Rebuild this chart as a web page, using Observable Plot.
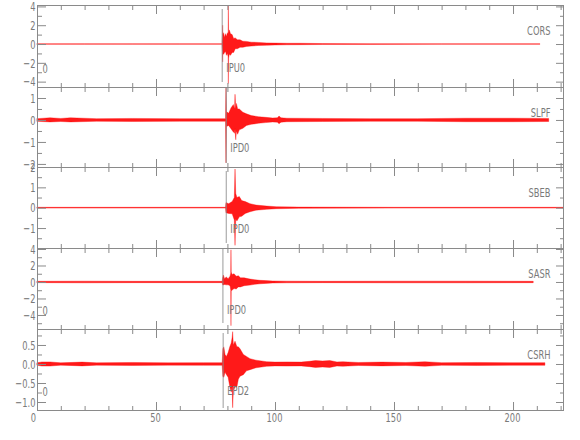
<!DOCTYPE html>
<html><head><meta charset="utf-8">
<script src="https://cdn.jsdelivr.net/npm/d3@7"></script>
<script src="https://cdn.jsdelivr.net/npm/@observablehq/plot@0.6"></script>
<style>
html,body{margin:0;padding:0;background:#fff;}
#chart{position:relative;width:580px;height:440px;overflow:hidden;background:#fff;}
#chart svg{position:absolute;left:0;overflow:visible;}
</style></head><body><div id="chart"></div>
<script>
// ---- data ----
const stations = ["CORS", "SLPF", "SBEB", "SASR", "CSRH"];
const pickT = [77.6, 79.3, 79.3, 77.9, 78.0];
const pickLabels = ["IPU0", "IPD0", "IPD0", "IPD0", "EPD2"];
const hasZero = [true, false, false, true, true];

const xMajor = [0, 50, 100, 150, 200];
const xMinor = [10, 20, 30, 40, 60, 70, 80, 90, 110, 120, 130, 140, 160, 170, 180, 190, 210, 220];

const yDomains = [[-4.57, 4.15], [-2.14, 1.5], [-1.98, 2.0], [-5.7, 4.12], [-1.21, 0.92]];
const yMajor = [[-4, -2, 0, 2, 4], [-2, -1, 0, 1], [-1, 0, 1, 2], [-4, -2, 0, 2, 4], [-1, -0.5, 0, 0.5]];
const yMinor = [[-3, -1, 1, 3], [-1.5, -0.5, 0.5], [-1.5, -0.5, 0.5, 1.5], [-5, -3, -1, 1, 3], [-0.75, -0.25, 0.25, 0.75]];

// envelope of each trace: time (s), upper and lower amplitude
const corsT  = [0, 20, 40, 60, 77.7, 77.9, 78.0, 78.1, 78.4, 78.8, 79.2, 79.6, 80.0, 80.3, 80.4, 80.5, 80.8, 81.3, 82.0, 82.6, 83.3, 84.2, 85.3, 86.5, 88, 90, 93, 96.5, 100, 105, 110.5, 120, 140, 170, 211.3];
const corsHi = [0.02, 0.03, 0.02, 0.03, 0.03, 0.9, 2.0, 0.9, 1.2, 0.7, 1.1, 0.8, 1.2, 1.0, 4.05, 1.1, 1.5, 1.1, 1.0, 0.6, 0.65, 0.45, 0.45, 0.3, 0.28, 0.2, 0.17, 0.12, 0.1, 0.08, 0.08, 0.05, 0.04, 0.03, 0.03];
const corsLo = [-0.02, -0.03, -0.02, -0.03, -0.03, -0.8, -1.9, -1.0, -1.1, -0.9, -0.8, -1.2, -1.0, -1.35, -4.2, -1.5, -1.1, -1.2, -0.9, -0.9, -0.5, -0.5, -0.35, -0.35, -0.25, -0.22, -0.15, -0.13, -0.1, -0.08, -0.07, -0.05, -0.04, -0.03, -0.03];

const slpfT  = [0, 5.5, 10, 14, 25, 40, 60, 79.2, 79.4, 79.6, 80.5, 81.5, 82.5, 83.0, 83.2, 83.5, 83.8, 84.3, 85, 86.5, 88, 90, 93, 96, 99, 101, 101.7, 102.5, 105, 120, 140, 160, 180, 200, 215];
const slpfHi = [0.06, 0.1, 0.07, 0.1, 0.06, 0.07, 0.06, 0.06, 1.45, 0.38, 0.3, 0.55, 0.7, 0.5, 1.17, 0.5, 0.75, 0.5, 0.5, 0.35, 0.28, 0.2, 0.15, 0.12, 0.09, 0.1, 0.18, 0.1, 0.08, 0.07, 0.06, 0.06, 0.08, 0.08, 0.07];
const slpfLo = [-0.06, -0.09, -0.07, -0.09, -0.06, -0.07, -0.06, -0.06, -1.95, -0.3, -0.25, -0.4, -0.55, -0.6, -0.4, -0.9, -0.5, -0.65, -0.45, -0.38, -0.25, -0.2, -0.15, -0.12, -0.09, -0.1, -0.17, -0.1, -0.08, -0.07, -0.06, -0.06, -0.08, -0.08, -0.07];

const sbebT  = [0, 40, 79.2, 79.4, 80.5, 82, 82.9, 83.2, 83.5, 84, 85, 86, 87.5, 89.5, 92, 96.5, 100.5, 110, 150, 221];
const sbebHi = [0.02, 0.02, 0.02, 0.25, 0.2, 0.3, 0.5, 1.9, 0.7, 0.5, 0.55, 0.35, 0.3, 0.2, 0.13, 0.08, 0.05, 0.03, 0.02, 0.02];
const sbebLo = [-0.02, -0.02, -0.02, -0.25, -0.28, -0.3, -0.6, -1.85, -0.55, -0.65, -0.45, -0.42, -0.28, -0.2, -0.12, -0.08, -0.05, -0.03, -0.02, -0.02];

const sasrT  = [0, 20, 40, 60, 77.8, 78.0, 78.3, 78.8, 79.5, 80.3, 81.1, 81.4, 81.5, 81.6, 82, 82.8, 83.7, 84.6, 85.5, 87, 89.5, 91.5, 93.7, 96, 99, 105, 120, 150, 180, 208.5];
const sasrHi = [0.08, 0.1, 0.08, 0.08, 0.08, 0.5, 0.85, 0.4, 0.6, 0.4, 0.7, 1.1, 3.9, 1.2, 0.9, 1.0, 0.7, 0.75, 0.5, 0.5, 0.35, 0.28, 0.2, 0.17, 0.12, 0.1, 0.08, 0.1, 0.1, 0.08];
const sasrLo = [-0.08, -0.1, -0.08, -0.08, -0.08, -0.35, -0.36, -0.3, -0.35, -0.35, -0.45, -1.0, -5.3, -1.1, -0.97, -0.8, -0.85, -0.6, -0.6, -0.45, -0.38, -0.28, -0.22, -0.17, -0.12, -0.1, -0.08, -0.1, -0.1, -0.08];

const csrhT  = [0, 2, 5.5, 10, 19, 25, 40, 55, 70, 77.8, 78.1, 78.5, 79, 79.6, 80.3, 81.0, 81.6, 82.0, 82.2, 82.5, 83.2, 84, 84.6, 85.3, 86.7, 88, 89.5, 92, 96.5, 100, 105, 111, 114.5, 117, 120, 123, 126, 128.5, 135, 145, 155, 163, 170, 185, 200, 213.4];
const csrhHi = [0.03, 0.055, 0.055, 0.03, 0.05, 0.03, 0.04, 0.03, 0.035, 0.035, 0.4, 0.45, 0.25, 0.2, 0.3, 0.45, 0.55, 0.7, 0.85, 0.5, 0.6, 0.45, 0.45, 0.4, 0.25, 0.2, 0.14, 0.1, 0.06, 0.05, 0.055, 0.05, 0.07, 0.09, 0.08, 0.09, 0.055, 0.06, 0.04, 0.05, 0.04, 0.06, 0.035, 0.04, 0.035, 0.035];
const csrhLo = [-0.03, -0.055, -0.055, -0.03, -0.05, -0.03, -0.04, -0.03, -0.035, -0.035, -0.33, -0.35, -0.22, -0.28, -0.35, -0.6, -0.74, -0.6, -1.15, -0.7, -0.6, -0.6, -0.4, -0.32, -0.28, -0.18, -0.15, -0.1, -0.06, -0.05, -0.055, -0.05, -0.07, -0.09, -0.08, -0.09, -0.055, -0.06, -0.04, -0.05, -0.04, -0.06, -0.035, -0.04, -0.035, -0.035];

const traceT = [corsT, slpfT, sbebT, sasrT, csrhT];
const traceHi = [corsHi, slpfHi, sbebHi, sasrHi, csrhHi];
const traceLo = [corsLo, slpfLo, sbebLo, sasrLo, csrhLo];

// ---- layout / style ----
const boxTop = [5, 87, 167, 248, 329];
const boxBottom = [87, 167, 248, 329, 410];
const pickInset = [[4, 5], [1, 4], [4, 5], [0, 6], [4, 2]];
const LINE = "#8a8a8a", TEXT = "#7a7a7a", RED = "#ff0000";
const FONT = "'DejaVu Sans', sans-serif";
const CONDENSE = 0.64;

const chart = document.getElementById("chart");

for (let i = 0; i < 5; i++) {
  const mt = 10, mb = i === 4 ? 30 : 10;
  const h = boxBottom[i] - boxTop[i];
  const data = traceT[i].map((t, j) => ({t, hi: traceHi[i][j], lo: traceLo[i][j]}));
  const fmt = i === 4 ? d3.format(".1f") : d3.format("d");
  const tickOpts = {fill: "none", label: null, stroke: LINE};
  const svg = Plot.plot({
    width: 580,
    height: h + mt + mb,
    marginLeft: 37, marginRight: 17, marginTop: mt, marginBottom: mb,
    style: {background: "transparent", overflow: "visible", fontFamily: FONT, fontSize: "13px"},
    x: {domain: [0, 221]},
    y: {domain: yDomains[i]},
    marks: [
      Plot.areaY(data, {x: "t", y1: "lo", y2: "hi", fill: RED, fillOpacity: 0.9, stroke: RED, strokeWidth: 0.5, strokeOpacity: 0.7}),
      Plot.ruleX([{t: pickT[i]}], {x: "t", stroke: LINE, strokeOpacity: 0.85, insetTop: pickInset[i][0], insetBottom: pickInset[i][1]}),
      Plot.frame({stroke: LINE}),
      Plot.axisX(xMinor, {anchor: "top", tickSize: -4, ...tickOpts}),
      Plot.axisX(xMajor, {anchor: "top", tickSize: -8, ...tickOpts}),
      Plot.axisX(xMinor, {anchor: "bottom", tickSize: -4, ...tickOpts}),
      Plot.axisX(xMajor, {anchor: "bottom", tickSize: -8, ...tickOpts}),
      Plot.axisY(yMinor[i], {anchor: "left", tickSize: -5, ...tickOpts}),
      Plot.axisY(yMajor[i], {anchor: "left", tickSize: -9, ...tickOpts}),
      Plot.axisY(yMinor[i], {anchor: "right", tickSize: -4, ...tickOpts}),
      Plot.axisY(yMajor[i], {anchor: "right", tickSize: -8, ...tickOpts}),
      Plot.axisY(yMajor[i], {anchor: "left", tickSize: 0, tickPadding: 2, tickFormat: fmt, label: null, fill: TEXT}),
      i === 4 ? Plot.axisX(xMajor.slice(0, 1), {anchor: "bottom", tickSize: 0, tickPadding: 2, dx: -4, label: null, fill: TEXT}) : null,
      i === 4 ? Plot.axisX(xMajor.slice(1), {anchor: "bottom", tickSize: 0, tickPadding: 2, dx: -1, label: null, fill: TEXT}) : null,
      Plot.text([{t: pickT[i], s: pickLabels[i]}], {x: "t", text: "s", frameAnchor: "bottom", dx: 4, dy: -16, textAnchor: "start", fill: TEXT}),
      hasZero[i] ? Plot.text(["0"], {text: d => d, frameAnchor: "bottom-left", dx: 5, dy: -15, textAnchor: "start", fill: TEXT}) : null,
      Plot.text([stations[i]], {text: d => d, frameAnchor: "top-right", dx: -13, dy: 20, textAnchor: "end", fill: TEXT})
    ]
  });
  svg.style.top = (boxTop[i] - mt) + "px";
  chart.appendChild(svg);
  // condense glyphs to resemble the narrow plotting font of the original
  svg.querySelectorAll("text").forEach(el => {
    const L = el.getComputedTextLength();
    if (L > 0) {
      el.setAttribute("textLength", (L * CONDENSE).toFixed(2));
      el.setAttribute("lengthAdjust", "spacingAndGlyphs");
    }
  });
}
</script></body></html>
